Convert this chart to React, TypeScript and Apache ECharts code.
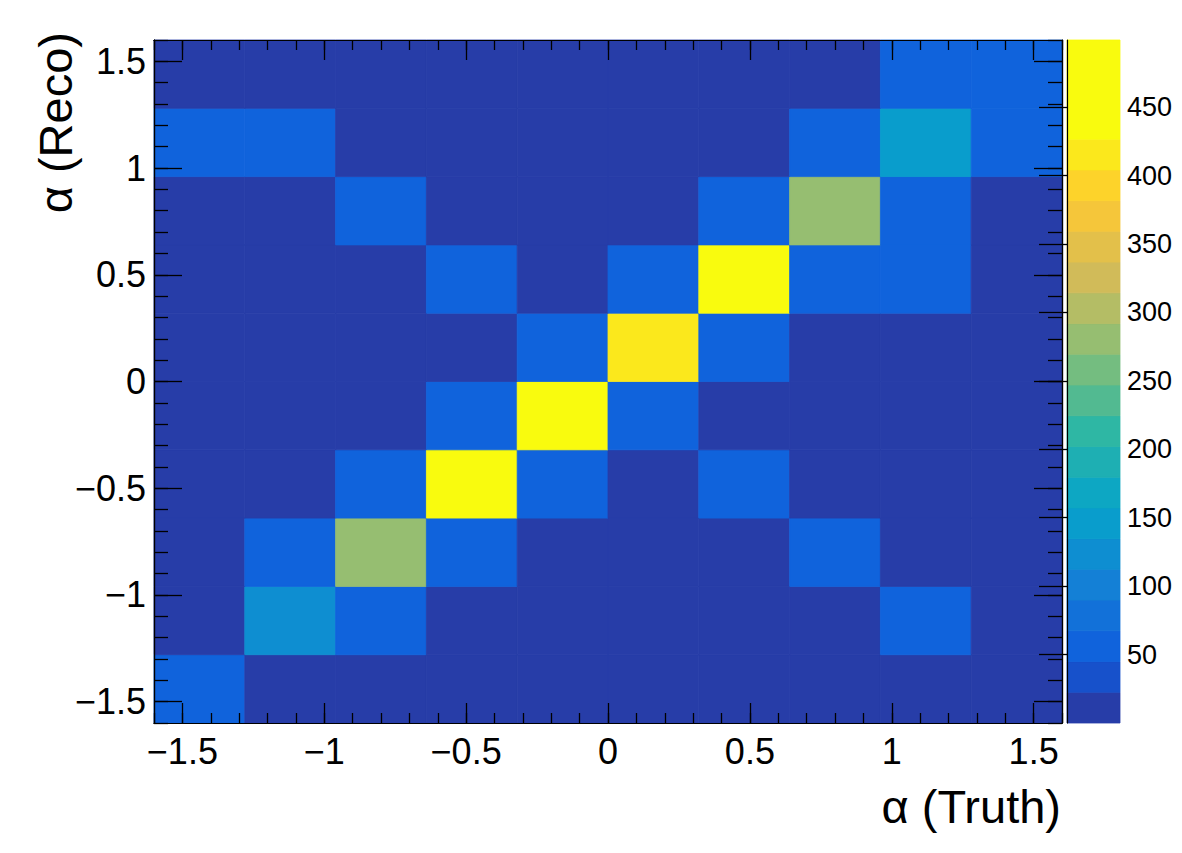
import React, { useEffect, useRef } from "react";
import * as echarts from "echarts";

// Bin edges (10 x 10 bins)
const xEdges = [-1.6, -1.28, -0.96, -0.64, -0.32, 0, 0.32, 0.64, 0.96, 1.28, 1.6];
const yEdges = [-1.6, -1.28, -0.96, -0.64, -0.32, 0, 0.32, 0.64, 0.96, 1.28, 1.6];

// Bin contents, rows from bottom (y = -1.6) to top (y = 1.6), columns left to right
const row0 = [55, 9, 7, 5, 4, 4, 5, 6, 8, 14];
const row1 = [15, 123, 58, 10, 6, 5, 5, 8, 52, 12];
const row2 = [12, 62, 281, 60, 11, 7, 8, 48, 13, 9];
const row3 = [8, 13, 64, 441, 59, 14, 50, 10, 7, 6];
const row4 = [6, 9, 15, 61, 449, 63, 16, 9, 6, 5];
const row5 = [5, 7, 10, 17, 57, 418, 62, 14, 9, 6];
const row6 = [6, 8, 12, 49, 18, 60, 437, 58, 51, 13];
const row7 = [10, 14, 47, 11, 9, 15, 56, 284, 63, 16];
const row8 = [53, 49, 12, 8, 6, 7, 14, 61, 146, 58];
const row9 = [13, 11, 8, 6, 5, 5, 7, 12, 54, 57];
const counts = [row0, row1, row2, row3, row4, row5, row6, row7, row8, row9];

// Contour levels of the colour scale (20 bands), last entry = top of the palette axis
const zLevels = [
  0, 22.45, 44.9, 67.35, 89.8, 112.25, 134.7, 157.15, 179.6, 202.05, 224.5,
  246.95, 269.4, 291.85, 314.3, 336.75, 359.2, 381.65, 404.1, 426.55, 499,
];

// Tick values
const majorTicks = [-1.5, -1, -0.5, 0, 0.5, 1, 1.5];
const minorTicks = [
  -1.6, -1.5, -1.4, -1.3, -1.2, -1.1, -1.0, -0.9, -0.8, -0.7, -0.6, -0.5, -0.4,
  -0.3, -0.2, -0.1, 0, 0.1, 0.2, 0.3, 0.4, 0.5, 0.6, 0.7, 0.8, 0.9, 1.0, 1.1,
  1.2, 1.3, 1.4, 1.5, 1.6,
];
const zTicks = [50, 100, 150, 200, 250, 300, 350, 400, 450];

const xTitle = "\u03b1 (Truth)";
const yTitle = "\u03b1 (Reco)";

// ROOT kBird palette
const birdStops = [0.0, 0.125, 0.25, 0.375, 0.5, 0.625, 0.75, 0.875, 1.0];
const birdR = [0.2082, 0.0592, 0.078, 0.0232, 0.1802, 0.5301, 0.8186, 0.9956, 0.9764];
const birdG = [0.1664, 0.3599, 0.5041, 0.6419, 0.7178, 0.7492, 0.7328, 0.7862, 0.9832];
const birdB = [0.5293, 0.8684, 0.8385, 0.7914, 0.6425, 0.4662, 0.3499, 0.1968, 0.0539];

function birdColor(f: number): string {
  let s = 0;
  while (s < birdStops.length - 2 && f > birdStops[s + 1]) s++;
  const t = (f - birdStops[s]) / (birdStops[s + 1] - birdStops[s]);
  const c = (a: number[]) => Math.round(255 * (a[s] + (a[s + 1] - a[s]) * t));
  return `rgb(${c(birdR)},${c(birdG)},${c(birdB)})`;
}

const nBands = zLevels.length - 1;
const bandColors = Array.from({ length: nBands }, (_, i) => {
  const idx = Math.floor(((i + 0.99) * 255) / nBands);
  return birdColor(Math.min(idx, 254) / 254);
});

function colorFor(v: number): string {
  let k = 0;
  while (k < nBands - 1 && v >= zLevels[k + 1]) k++;
  return bandColors[k];
}

const FONT = "'Liberation Sans', Arial, Helvetica, sans-serif";

const fmt = (v: number) => (v < 0 ? "\u2212" + String(-v) : String(v));

function makeAxis(
  dim: "x" | "y",
  position: string,
  ticks: number[],
  len: number,
  labels: boolean
): any {
  return {
    type: "value",
    gridIndex: 0,
    position,
    min: -1.6,
    max: 1.6,
    z: 10,
    axisLine: { show: true, onZero: false, lineStyle: { color: "#000", width: 1.2 } },
    axisTick: {
      show: true,
      inside: true,
      length: len,
      customValues: ticks,
      lineStyle: { color: "#000", width: 1.3 },
    },
    axisLabel: labels
      ? {
          show: true,
          customValues: majorTicks,
          formatter: fmt,
          color: "#000",
          fontSize: 36,
          fontFamily: FONT,
          margin: dim === "x" ? 10 : 8,
        }
      : { show: false },
    splitLine: { show: false },
  };
}

export default function App() {
  const ref = useRef<HTMLDivElement>(null);

  useEffect(() => {
    if (!ref.current) return;
    const chart = echarts.init(ref.current, null, { renderer: "svg" });

    const cells: number[][] = [];
    for (let j = 0; j < counts.length; j++) {
      for (let i = 0; i < counts[j].length; i++) {
        cells.push([xEdges[i], xEdges[i + 1], yEdges[j], yEdges[j + 1], counts[j][i]]);
      }
    }
    const bands: number[][] = [];
    for (let k = 0; k < nBands; k++) bands.push([0, 1, zLevels[k], zLevels[k + 1], k]);

    const option: any = {
      animation: false,
      backgroundColor: "#fff",
      grid: [
        { left: 154, top: 40, width: 908, height: 683, show: false },
        { left: 1067, top: 40, width: 53, height: 683, show: false },
      ],
      xAxis: [
        makeAxis("x", "bottom", majorTicks, 20, true),
        makeAxis("x", "bottom", minorTicks, 10, false),
        makeAxis("x", "top", majorTicks, 20, false),
        makeAxis("x", "top", minorTicks, 10, false),
        { type: "value", gridIndex: 1, min: 0, max: 1, show: false },
      ],
      yAxis: [
        makeAxis("y", "left", majorTicks, 28, true),
        makeAxis("y", "left", minorTicks, 14, false),
        makeAxis("y", "right", majorTicks, 28, false),
        makeAxis("y", "right", minorTicks, 14, false),
        {
          type: "value",
          gridIndex: 1,
          position: "right",
          min: 0,
          max: zLevels[zLevels.length - 1],
          z: 10,
          axisLine: { show: true, lineStyle: { color: "#000", width: 1.2 } },
          axisTick: {
            show: true,
            inside: true,
            length: 28,
            customValues: zTicks,
            lineStyle: { color: "#000", width: 1.3 },
          },
          axisLabel: {
            show: true,
            customValues: zTicks,
            color: "#000",
            fontSize: 27,
            fontFamily: FONT,
            margin: 7,
          },
          splitLine: { show: false },
        },
      ],
      series: [
        {
          type: "custom",
          xAxisIndex: 0,
          yAxisIndex: 0,
          data: cells,
          encode: { x: [0, 1], y: [2, 3] },
          renderItem: (params: any, api: any) => {
            const a = api.coord([api.value(0), api.value(2)]);
            const b = api.coord([api.value(1), api.value(3)]);
            const c = colorFor(api.value(4));
            return {
              type: "rect",
              shape: {
                x: a[0],
                y: b[1],
                width: b[0] - a[0],
                height: a[1] - b[1],
              },
              style: { fill: c, stroke: c, lineWidth: 0.8 },
            };
          },
        },
        {
          type: "custom",
          xAxisIndex: 4,
          yAxisIndex: 4,
          data: bands,
          encode: { x: [0, 1], y: [2, 3] },
          renderItem: (params: any, api: any) => {
            const a = api.coord([api.value(0), api.value(2)]);
            const b = api.coord([api.value(1), api.value(3)]);
            const c = bandColors[api.value(4)];
            return {
              type: "rect",
              shape: {
                x: a[0],
                y: b[1],
                width: b[0] - a[0],
                height: a[1] - b[1],
              },
              style: { fill: c, stroke: c, lineWidth: 0.8 },
            };
          },
        },
      ],
      graphic: [
        {
          type: "text",
          x: 1061,
          y: 806,
          style: {
            text: xTitle,
            align: "right",
            verticalAlign: "middle",
            fontSize: 47,
            fontFamily: FONT,
            fill: "#000",
          },
        },
        {
          type: "text",
          x: 55,
          y: 32,
          rotation: Math.PI / 2,
          style: {
            text: yTitle,
            align: "right",
            verticalAlign: "middle",
            fontSize: 47,
            fontFamily: FONT,
            fill: "#000",
          },
        },
      ],
    };

    chart.setOption(option);
    return () => chart.dispose();
  }, []);

  return (
    <div
      ref={ref}
      style={{ position: "fixed", left: 0, top: 0, width: 1182, height: 853, background: "#fff" }}
    />
  );
}
